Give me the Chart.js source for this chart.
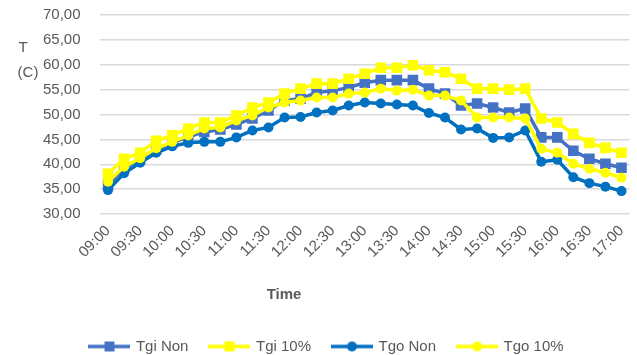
<!DOCTYPE html>
<html>
<head>
<meta charset="utf-8">
<script src="https://cdn.jsdelivr.net/npm/chart.js@4.4.1/dist/chart.umd.min.js"></script>
<style>
  html, body { margin: 0; padding: 0; background: #fff; }
  #wrap { width: 637px; height: 355px; position: relative; }
</style>
</head>
<body>
<div id="wrap"><canvas id="chart"></canvas></div>
<script>
// times every 15 minutes, 09:00 .. 17:00
const times = ['09:00','09:15','09:30','09:45','10:00','10:15','10:30','10:45','11:00','11:15','11:30','11:45',
  '12:00','12:15','12:30','12:45','13:00','13:15','13:30','13:45','14:00','14:15','14:30','14:45',
  '15:00','15:15','15:30','15:45','16:00','16:15','16:30','16:45','17:00'];

const tgiNon = [35.8, 39.2, 41.0, 43.0, 44.3, 45.5, 46.5, 47.0, 48.0, 49.2, 50.8, 52.8, 53.2, 54.4, 54.8, 55.4, 56.4,
  56.9, 56.9, 56.9, 55.2, 54.2, 51.8, 52.2, 51.4, 50.4, 51.2, 45.4, 45.4, 42.7, 41.1, 40.1, 39.3];
const tgi10 = [38.1, 41.1, 42.3, 44.7, 45.8, 47.2, 48.4, 48.4, 49.8, 51.4, 52.4, 54.2, 55.2, 56.2, 56.2, 57.2, 58.2,
  59.4, 59.4, 59.9, 58.9, 58.5, 57.2, 55.2, 55.2, 55.0, 55.2, 49.2, 48.4, 46.1, 44.3, 43.3, 42.3];
const tgoNon = [34.8, 38.2, 40.3, 42.3, 43.6, 44.3, 44.5, 44.5, 45.4, 46.8, 47.4, 49.4, 49.5, 50.4, 50.8, 51.8, 52.4,
  52.2, 52.0, 51.8, 50.3, 49.4, 47.0, 47.2, 45.3, 45.4, 46.8, 40.5, 40.9, 37.4, 36.2, 35.5, 34.6];
const tgo10 = [36.5, 39.5, 41.2, 43.2, 44.5, 45.8, 47.2, 47.4, 48.8, 49.8, 51.4, 52.4, 52.8, 53.4, 53.4, 54.2, 54.4,
  55.2, 54.8, 55.0, 53.8, 53.8, 52.8, 49.4, 49.4, 49.4, 49.2, 43.1, 42.3, 40.1, 39.1, 38.3, 37.3];

const seriesNames = ['Tgi Non', 'Tgi 10%', 'Tgo Non', 'Tgo 10%'];
const yTicks = { min: 30, max: 70, step: 5 };

const textColor = '#595959';
const font = 'Liberation Sans, Arial, sans-serif';

function series(label, data, color, shape, order) {
  return {
    label: label,
    data: data,
    borderColor: color,
    backgroundColor: color,
    borderWidth: 3.5,
    pointStyle: shape,
    pointRadius: shape === 'rect' ? 7.5 : 5,
    pointBorderWidth: 0,
    tension: 0,
    order: order
  };
}

// little line + marker pictures for the legend
function legendIcon(color, shape) {
  const c = document.createElement('canvas');
  c.width = 42; c.height = 12;
  const g = c.getContext('2d');
  g.strokeStyle = color;
  g.lineWidth = 3.5;
  g.beginPath(); g.moveTo(0, 6); g.lineTo(42, 6); g.stroke();
  g.fillStyle = color;
  if (shape === 'rect') {
    g.fillRect(16, 1, 10, 10);
  } else {
    g.beginPath(); g.arc(21, 6, 5, 0, Math.PI * 2); g.fill();
  }
  return c;
}

const datasets = [
  series(seriesNames[0], tgiNon, '#4472C4', 'rect', 3),
  series(seriesNames[1], tgi10, '#FFFF00', 'rect', 2),
  series(seriesNames[2], tgoNon, '#0070C0', 'circle', 1),
  series(seriesNames[3], tgo10, '#FFFF00', 'circle', 0)
];
const icons = datasets.map(d => legendIcon(d.borderColor, d.pointStyle));

// axis titles placed like the original, legend nudged left a bit
const axisTitles = {
  id: 'axisTitles',
  afterLayout(chart) {
    chart.legend.left -= 10;
    chart.legend.right -= 10;
  },
  afterDraw(chart) {
    const ctx = chart.ctx;
    ctx.save();
    ctx.fillStyle = textColor;
    ctx.textAlign = 'center';
    ctx.textBaseline = 'middle';
    ctx.font = '15px ' + font;
    ctx.fillText('T', 23, 48);
    ctx.fillText('(C)', 28, 73);
    ctx.font = 'bold 15px ' + font;
    ctx.fillText('Time', 284, 295);
    ctx.restore();
  }
};

new Chart(document.getElementById('chart'), {
  type: 'line',
  data: { labels: times, datasets: datasets },
  options: {
    responsive: true,
    maintainAspectRatio: false,
    animation: false,
    layout: { padding: { left: 43, right: 6, top: 15, bottom: -9 } },
    plugins: {
      tooltip: { enabled: false },
      legend: {
        position: 'bottom',
        labels: {
          usePointStyle: true,
          pointStyleWidth: 38,
          padding: 22,
          color: textColor,
          font: { family: font, size: 15 },
          generateLabels: chart => chart.data.datasets.map((ds, i) => ({
            text: ds.label,
            pointStyle: icons[i],
            datasetIndex: i,
            hidden: false,
            fontColor: textColor,
            lineWidth: 0
          }))
        }
      }
    },
    scales: {
      x: {
        type: 'category',
        offset: true,
        grid: { display: false },
        border: { display: false },
        ticks: {
          autoSkip: false,
          minRotation: 45,
          maxRotation: 45,
          padding: 0,
          color: textColor,
          font: { family: font, size: 15 },
          callback: function(v, i) { return i % 2 === 0 ? times[i] : ''; }
        },
        afterFit(scale) { scale.height = 103; }
      },
      y: {
        min: yTicks.min,
        max: yTicks.max,
        grid: { color: '#d9d9d9', lineWidth: 1.5, drawTicks: false },
        border: { display: false },
        ticks: {
          stepSize: yTicks.step,
          padding: 0,
          crossAlign: 'far',
          color: textColor,
          font: { family: font, size: 15 },
          callback: v => v.toFixed(2).replace('.', ',')
        },
        afterFit(scale) { scale.width = 57; }
      }
    }
  },
  plugins: [axisTitles]
});
</script>
</body>
</html>
